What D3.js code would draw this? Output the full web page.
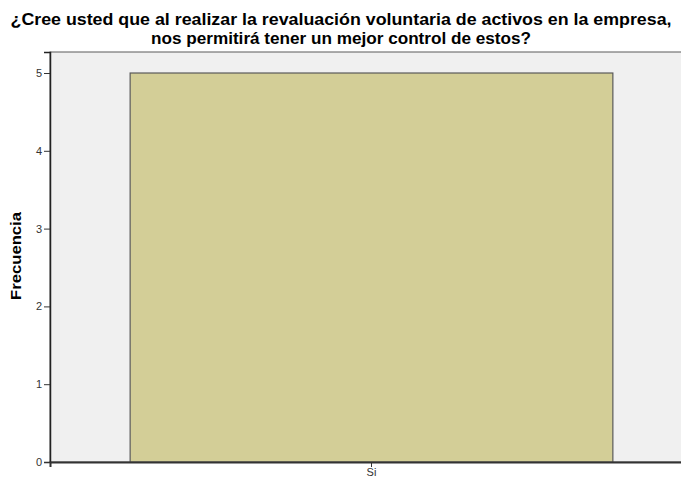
<!DOCTYPE html>
<html>
<head>
<meta charset="utf-8">
<script src="https://cdn.jsdelivr.net/npm/d3@7"></script>
<style>
  body { margin: 0; background: #fff; }
  svg { display: block; font-family: Arial, "Liberation Sans", sans-serif; }
</style>
</head>
<body>
<div id="chart-area"></div>
<script>
// data
var categories = ["Si"];
var frecuencia = [5];
var yTicks = [0, 1, 2, 3, 4, 5];
var titleLines = ["¿Cree usted que al realizar la revaluación voluntaria de activos en la empresa,",
                  "nos permitirá tener un mejor control de estos?"];
var titleWidths = [661, 380];

var margin = {top: 52, right: -12, bottom: 19, left: 50};
var width = 681 - margin.left - margin.right,
    height = 481 - margin.top - margin.bottom;

var svg = d3.select("#chart-area").append("svg")
    .attr("width", 681)
    .attr("height", 481);

// title, fitted to the width of the original lines
svg.selectAll(".title")
    .data(titleLines)
    .enter().append("text")
    .attr("class", "title")
    .attr("x", 341)
    .attr("y", function(d, i) { return 25 + i * 19; })
    .attr("text-anchor", "middle")
    .attr("textLength", function(d, i) { return titleWidths[i]; })
    .attr("lengthAdjust", "spacingAndGlyphs")
    .style("font-size", "16px")
    .style("font-weight", "bold")
    .text(function(d) { return d; });

var g = svg.append("g")
    .attr("transform", "translate(" + margin.left + "," + margin.top + ")");

var x = d3.scaleBand()
    .domain(categories)
    .range([0, width])
    .paddingInner(0)
    .paddingOuter(0.166);

var y = d3.scaleLinear()
    .domain([0, 5.27])
    .range([height, 0]);

// plot background
g.append("rect")
    .attr("x", 0)
    .attr("y", 0)
    .attr("width", width)
    .attr("height", height)
    .attr("fill", "#f0f0f0")
    .attr("stroke", "#5a5a5a")
    .attr("stroke-width", 1);

// bars
g.selectAll(".bar")
    .data(frecuencia)
    .enter().append("rect")
    .attr("class", "bar")
    .attr("x", function(d, i) { return x(categories[i]); })
    .attr("y", function(d) { return y(d); })
    .attr("width", x.bandwidth())
    .attr("height", function(d) { return height - y(d); })
    .attr("fill", "#d3ce97")
    .attr("stroke", "#5a5a5a")
    .attr("stroke-width", 1.2);

// axes
var yAxis = d3.axisLeft(y).tickValues(yTicks).tickSize(6).tickPadding(2).tickFormat(d3.format("d"));
var yg = g.append("g").call(yAxis);
yg.select(".domain").attr("stroke", "#222").attr("stroke-width", 1.5);
yg.selectAll(".tick line").attr("stroke", "#333");
yg.selectAll(".tick text").style("font-size", "11px").attr("fill", "#333");

var xAxis = d3.axisBottom(x).tickSize(5).tickPadding(1);
var xg = g.append("g")
    .attr("transform", "translate(0," + height + ")")
    .call(xAxis);
xg.select(".domain").attr("stroke", "#333").attr("stroke-width", 2);
xg.selectAll(".tick line").attr("stroke", "#333");
xg.selectAll(".tick text").style("font-size", "11px").attr("fill", "#333");

// y axis title
svg.append("text")
    .attr("transform", "translate(20.5,256) rotate(-90)")
    .attr("text-anchor", "middle")
    .attr("textLength", 88)
    .attr("lengthAdjust", "spacingAndGlyphs")
    .style("font-size", "14px")
    .style("font-weight", "bold")
    .text("Frecuencia");
</script>
</body>
</html>
